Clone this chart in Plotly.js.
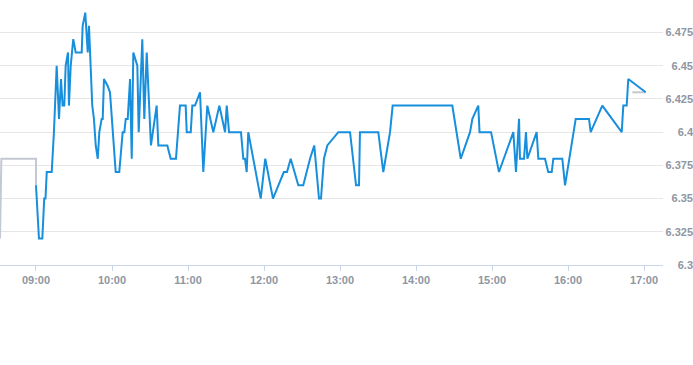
<!DOCTYPE html>
<html>
<head>
<meta charset="utf-8">
<script src="https://cdn.plot.ly/plotly-3.0.1.min.js"></script>
<style>html,body{margin:0;padding:0;background:#fff;}#chart{width:693px;height:365px;}</style>
</head>
<body>
<div id="chart"></div>
<script>
const day = "2024-01-02 ";
const priceTimes = ["09:00:00","09:02:20","09:05:00","09:06:30","09:07:30","09:08:30","09:12:25","09:14:10","09:16:20","09:18:10","09:19:45","09:21:00","09:22:20","09:23:25","09:25:15","09:26:00","09:27:25","09:29:25","09:31:20","09:36:05","09:36:50","09:38:55","09:40:50","09:41:50","09:44:25","09:45:45","09:47:10","09:48:45","09:50:00","09:51:50","09:52:40","09:53:40","09:56:30","09:58:25","10:02:55","10:05:45","10:08:25","10:09:45","10:10:50","10:12:25","10:14:15","10:15:35","10:16:50","10:20:00","10:21:05","10:23:55","10:25:30","10:27:25","10:30:45","10:35:15","10:36:35","10:43:40","10:46:20","10:50:30","10:53:40","10:58:10","10:59:00","11:02:10","11:03:25","11:05:30","11:09:30","11:12:05","11:15:15","11:20:00","11:24:45","11:29:15","11:30:35","11:32:25","11:41:50","11:43:40","11:45:00","11:46:20","11:47:35","11:57:25","12:01:00","12:07:05","12:15:40","12:18:10","12:21:05","12:27:05","12:31:00","12:36:20","12:39:40","12:43:25","12:45:00","12:47:20","12:50:00","12:58:40","13:07:55","13:12:40","13:15:00","13:15:45","13:30:15","13:34:10","13:39:30","13:41:35","14:28:40","14:32:10","14:35:20","14:42:40","14:44:30","14:49:10","14:50:10","14:59:15","15:05:30","15:16:50","15:18:55","15:21:20","15:22:05","15:25:15","15:26:50","15:27:55","15:35:15","15:36:35","15:41:50","15:44:25","15:47:10","15:48:25","15:55:30","15:57:40","16:06:05","16:16:35","16:17:55","16:27:05","16:42:25","16:43:40","16:46:20","16:47:35","17:01:20"];
const prices = [6.36,6.32,6.32,6.35,6.35,6.37,6.37,6.40,6.45,6.41,6.44,6.42,6.42,6.45,6.46,6.42,6.45,6.47,6.46,6.46,6.48,6.49,6.46,6.48,6.42,6.41,6.39,6.38,6.40,6.41,6.41,6.44,6.435,6.43,6.37,6.37,6.40,6.40,6.41,6.41,6.44,6.38,6.46,6.45,6.40,6.47,6.41,6.46,6.39,6.42,6.39,6.39,6.38,6.38,6.42,6.42,6.40,6.40,6.42,6.42,6.43,6.37,6.42,6.40,6.42,6.40,6.42,6.40,6.40,6.38,6.38,6.37,6.40,6.35,6.38,6.35,6.37,6.37,6.38,6.36,6.36,6.38,6.39,6.35,6.35,6.38,6.39,6.40,6.40,6.36,6.36,6.40,6.40,6.37,6.40,6.42,6.42,6.40,6.38,6.40,6.41,6.42,6.40,6.40,6.37,6.40,6.37,6.41,6.38,6.38,6.40,6.38,6.40,6.38,6.38,6.37,6.37,6.38,6.38,6.36,6.41,6.41,6.40,6.42,6.40,6.42,6.42,6.44,6.43];
const preTimes = ["08:31:35","08:32:40","09:00:00","09:00:00"];
const preValues = [6.32,6.38,6.38,6.36];
const postTimes = ["16:50:45","17:01:20"];
const postValues = [6.43,6.43];
const yTicks = [6.3,6.325,6.35,6.375,6.4,6.425,6.45,6.475];
const yTickLabels = ["6.3","6.325","6.35","6.375","6.4","6.425","6.45","6.475"];

const full = a => a.map(t => day + t);
const labelFont = {family: "Liberation Sans, Arial, sans-serif", size: 11, color: "#8e96a3", weight: "bold"};

const traces = [
  {x: full(preTimes), y: preValues, type: "scatter", mode: "lines", line: {color: "#c3c9d0", width: 2}, hoverinfo: "skip"},
  {x: full(postTimes), y: postValues, type: "scatter", mode: "lines", line: {color: "#c3c9d0", width: 2}, hoverinfo: "skip"},
  {x: full(priceTimes), y: prices, type: "scatter", mode: "lines", line: {color: "#178fdd", width: 2}, hoverinfo: "skip"}
];

const layout = {
  width: 693, height: 365,
  margin: {l: 0, r: 0, t: 0, b: 100, pad: 0},
  paper_bgcolor: "#fff", plot_bgcolor: "#fff",
  showlegend: false,
  xaxis: {
    type: "date",
    domain: [0, 663/693],
    range: [day + "08:31:35", day + "17:15:00"],
    tickformat: "%H:%M",
    dtick: 3600000,
    tick0: day + "09:00:00",
    showgrid: false,
    showline: true, linecolor: "#ccd6eb", linewidth: 1,
    ticks: "outside", ticklen: 5, tickcolor: "#ccd6eb", tickwidth: 1,
    tickfont: labelFont,
    zeroline: false,
    fixedrange: true
  },
  yaxis: {
    anchor: "free", position: 1, side: "left",
    range: [6.3, 6.4995],
    tickvals: yTicks, ticktext: yTickLabels,
    showgrid: true, gridcolor: "#e6e6e6", gridwidth: 1,
    showline: false, zeroline: false,
    ticks: "",
    tickfont: labelFont,
    fixedrange: true
  }
};

Plotly.newPlot("chart", traces, layout, {displayModeBar: false, staticPlot: true});
</script>
</body>
</html>
